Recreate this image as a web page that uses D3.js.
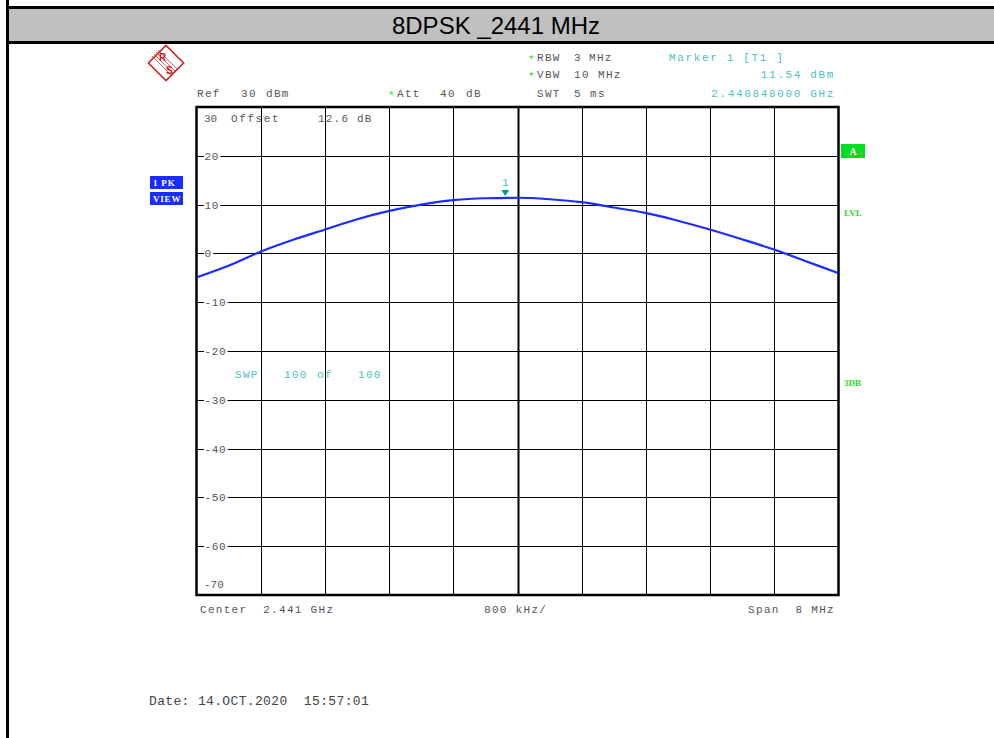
<!DOCTYPE html>
<html><head><meta charset="utf-8">
<script src="https://cdn.jsdelivr.net/npm/d3@7"></script>
<style>
html,body{margin:0;padding:0;background:#fff;}
svg{display:block;}
text{font-family:"Liberation Mono","DejaVu Sans Mono",monospace;white-space:pre;}
</style></head>
<body>
<script>
// ---- data ----
const title = "8DPSK _2441 MHz";
const freqOffsetsMHz = [-4.0,-3.6,-3.2,-2.8,-2.4,-2.0,-1.6,-1.2,-0.8,-0.4,0.0,0.4,0.8,1.2,1.6,2.0,2.4,2.8,3.2,3.6,4.0];
const levelsDbm      = [-4.9,-2.5,0.4,2.8,4.9,7.0,8.7,10.0,10.9,11.3,11.4,11.1,10.5,9.4,8.3,6.7,4.9,2.9,0.8,-1.6,-4.0];
const yTicks = [30,20,10,0,-10,-20,-30,-40,-50,-60,-70];
const xGridMHz = [-4,-3.2,-2.4,-1.6,-0.8,0,0.8,1.6,2.4,3.2,4];
const markerOffsetMHz = -0.152;   // 2.440848 GHz
const markerLevel = 11.54;
const centerLabel = "Center  2.441 GHz", divLabel = "800 kHz/", spanLabel = "Span  8 MHz";
const dateLabel = "Date: 14.OCT.2020  15:57:01";

const W = 994, H = 738;
const svg = d3.select("body").append("svg").attr("width", W).attr("height", H);

// ---- frame / title ----
svg.append("rect").attr("x",8).attr("y",8).attr("width",W-8).attr("height",35).attr("fill","#c0c0c0");
svg.append("line").attr("x1",7).attr("x2",W).attr("y1",7.5).attr("y2",7.5).attr("stroke","#000").attr("stroke-width",3);
svg.append("line").attr("x1",7).attr("x2",W).attr("y1",42.5).attr("y2",42.5).attr("stroke","#000").attr("stroke-width",3);
svg.append("line").attr("x1",7.5).attr("x2",7.5).attr("y1",0).attr("y2",H).attr("stroke","#000").attr("stroke-width",3);
svg.append("text").attr("x",496).attr("y",34).attr("text-anchor","middle")
  .style("font-family","'Liberation Sans',Arial,sans-serif").style("font-size","24px").attr("fill","#000").text(title);

// ---- scales ----
const L = 197, R = 838, T = 107, B = 595;
const x = d3.scaleLinear().domain([-4,4]).range([L,R]);
const y = d3.scaleLinear().domain([-70,30]).range([B,T]);

// grid
const g = svg.append("g");
g.selectAll(".vg").data(xGridMHz.slice(1,-1)).join("line")
  .attr("x1",d=>Math.round(x(d))+0.5).attr("x2",d=>Math.round(x(d))+0.5).attr("y1",T).attr("y2",B)
  .attr("stroke","#000").attr("stroke-width",d=>d===0?2:1);
g.selectAll(".hg").data(yTicks.slice(1,-1)).join("line")
  .attr("x1",L).attr("x2",R).attr("y1",d=>Math.round(y(d))+0.5).attr("y2",d=>Math.round(y(d))+0.5)
  .attr("stroke","#000").attr("stroke-width",1);

// y tick labels (with white background breaking the grid line)
const tl = svg.append("g");
yTicks.forEach(v=>{
  const yy = Math.round(y(v));
  const s = String(v);
  if (v===30) {
    tl.append("text").attr("x",204).attr("y",yy+15).attr("fill","#555").style("font-size","11px").text(s);
  } else if (v===-70) {
    tl.append("text").attr("x",204).attr("y",yy-7).attr("fill","#555").style("font-size","11px").text(s);
  } else {
    const w = s.length*7.2;
    tl.append("rect").attr("x",204).attr("y",yy-5).attr("width",w+2).attr("height",10).attr("fill","#fff");
    tl.append("text").attr("x",204.5).attr("y",yy+4).attr("fill","#555").style("font-size","11px")
      .style("letter-spacing","0.6px").text(s);
  }
});

// plot border
svg.append("rect").attr("x",L-0.5).attr("y",T).attr("width",R-L+1).attr("height",B-T)
  .attr("fill","none").attr("stroke","#000").attr("stroke-width",2.5);

// ---- trace ----
const pts = freqOffsetsMHz.map((f,i)=>[f,levelsDbm[i]]);
svg.append("path").datum(pts)
  .attr("d", d3.line().x(d=>x(d[0])).y(d=>y(d[1])).curve(d3.curveMonotoneX))
  .attr("fill","none").attr("stroke","#1a2cff").attr("stroke-width",2.2);

// marker
const mx = x(markerOffsetMHz), my = y(markerLevel);
svg.append("path").attr("d",`M${mx-4},${my-7}L${mx+4},${my-7}L${mx},${my-1}Z`).attr("fill","#009a9a");
svg.append("text").attr("x",mx).attr("y",my-11).attr("text-anchor","middle").attr("fill","#40b8b8")
  .style("font-size","11px").text("1");

// ---- annotations ----
function txt(xx,yy,s,col,anchor,size,ls){
  return svg.append("text").attr("x",xx).attr("y",yy).attr("fill",col||"#555")
    .attr("text-anchor",anchor||"start").style("font-size",(size||11)+"px")
    .style("letter-spacing",(ls===undefined?1.3:ls)+"px").text(s);
}
const grey="#555", teal="#4cc0c0", green="#22dd22";
txt(197,97,"Ref","#555"); txt(241,97,"30"); txt(266,97,"dBm");
txt(388,99,"*",green,"start",11,0); txt(397,97,"Att"); txt(440,97,"40"); txt(466,97,"dB");
txt(528,63,"*",green,"start",11,0); txt(537,61,"RBW"); txt(574,61,"3"); txt(589,61,"MHz");
txt(528,80,"*",green,"start",11,0); txt(537,78,"VBW"); txt(574,78,"10"); txt(598,78,"MHz");
txt(537,97,"SWT"); txt(574,97,"5"); txt(590,97,"ms");
txt(669,61,"Marker 1 [T1 ]",teal,"start",11,1.65);
txt(835,78,"11.54 dBm",teal,"end",11,1.65);
txt(835,97,"2.440848000 GHz",teal,"end",11,1.65);
txt(231,122,"Offset",grey,"start",11,1.6); txt(318,122,"12.6 dB",grey,"start",11,1.2);
txt(235,378,"SWP",teal); txt(284,378,"100",teal); txt(317,378,"of",teal); txt(358,378,"100",teal);
txt(200,613,centerLabel,grey,"start",11,1.3);
txt(484,613,divLabel,grey,"start",11,1.3);
txt(835,613,spanLabel,grey,"end",11,1.3);
txt(149,705,dateLabel,"#444","start",13,0.35);

// left status boxes
[["1 PK",176],["VIEW",192]].forEach(([s,yy])=>{
  svg.append("rect").attr("x",150).attr("y",yy).attr("width",33).attr("height",13).attr("fill","#1a2cff");
  svg.append("text").attr("x",153).attr("y",yy+9.5).attr("fill","#fff").style("font-size","9px")
    .style("font-weight","bold").style("font-family","'Liberation Serif',serif").style("letter-spacing","0.8px").text(s);
});
// right status
svg.append("rect").attr("x",841).attr("y",144).attr("width",24).attr("height",14).attr("fill","#00dd22");
svg.append("text").attr("x",853).attr("y",155).attr("text-anchor","middle").attr("fill","#fff")
  .style("font-size","10px").style("font-weight","bold").style("font-family","'Liberation Serif',serif").text("A");
svg.append("text").attr("x",844).attr("y",216).attr("fill","#22dd22").style("font-size","9px")
  .style("font-weight","bold").style("font-family","'Liberation Serif',serif").text("LVL");
svg.append("text").attr("x",844).attr("y",386).attr("fill","#22dd22").style("font-size","9px")
  .style("font-weight","bold").style("font-family","'Liberation Serif',serif").text("3DB");

// R&S logo
const lg = svg.append("g").attr("transform","translate(166,63)");
lg.append("rect").attr("x",-12.5).attr("y",-12.5).attr("width",25).attr("height",25)
  .attr("transform","rotate(45)").attr("fill","none").attr("stroke","#cc2222").attr("stroke-width",1.5);
[-3,-1,1,3].forEach(o=>{
  lg.append("line").attr("x1",-11+o).attr("y1",-9-o).attr("x2",9+o).attr("y2",11-o)
    .attr("stroke","#cc2222").attr("stroke-width",0.7).attr("transform","translate(0,-1)");
});
lg.append("text").attr("x",-7).attr("y",-2).attr("fill","#cc2222").style("font-size","10px")
  .style("font-family","'Liberation Sans',sans-serif").style("font-weight","bold").text("R");
lg.append("text").attr("x",0).attr("y",11).attr("fill","#cc2222").style("font-size","10px")
  .style("font-family","'Liberation Sans',sans-serif").style("font-weight","bold").text("S");
</script>
</body></html>
